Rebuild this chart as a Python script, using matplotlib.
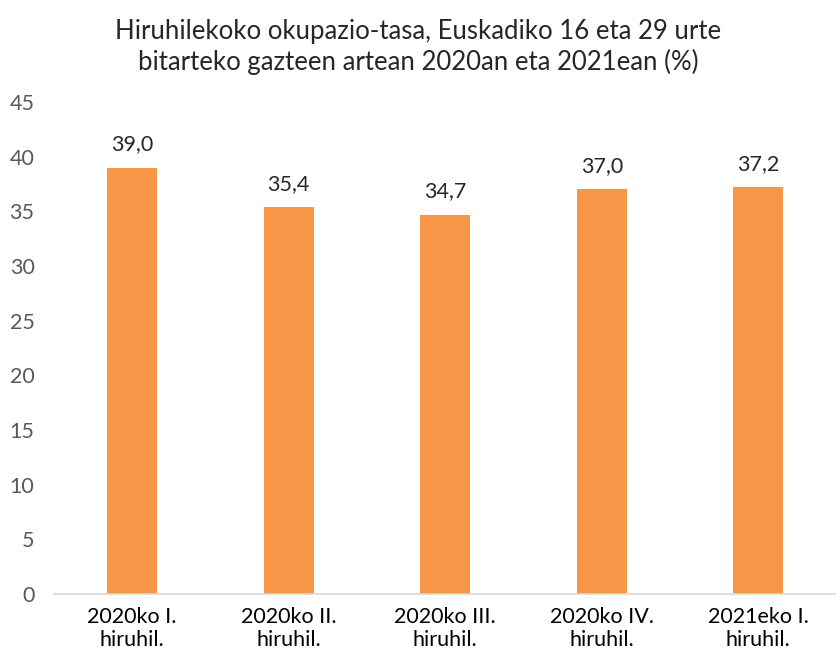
import matplotlib.pyplot as plt

categories = ["2020ko I.\nhiruhil.", "2020ko II.\nhiruhil.", "2020ko III.\nhiruhil.",
              "2020ko IV.\nhiruhil.", "2021eko I.\nhiruhil."]
values = [39.0, 35.4, 34.7, 37.0, 37.2]
yticks = [0, 5, 10, 15, 20, 25, 30, 35, 40, 45]

plt.rcParams['font.family'] = ['Lato', 'DejaVu Sans']

fig = plt.figure(figsize=(8.37, 6.64), dpi=100)
ax = fig.add_axes([0.0645, 0.1054, 0.935, 0.741])

x = range(len(values))
bars = ax.bar(x, values, width=0.32, color="#F79646")

for xi, v in zip(x, values):
    ax.text(xi, v + 1.2, f"{v:.1f}".replace(".", ","), ha="center", va="bottom",
            fontsize=15.5, color="#262626")

ax.set_xlim(-0.5, len(values) - 0.5)
ax.set_ylim(0, 45)
ax.set_yticks(yticks)
ax.set_yticklabels([str(t) for t in yticks], fontsize=15.5, color="#595959")
ax.set_xticks(list(x))
ax.set_xticklabels(categories, fontsize=15.5, color="#000000", linespacing=1.2)
ax.tick_params(axis="both", length=0)
ax.tick_params(axis="x", pad=9)
ax.tick_params(axis="y", pad=14)

for s in ["top", "right", "left"]:
    ax.spines[s].set_visible(False)
ax.spines["bottom"].set_color("#D9D9D9")
ax.spines["bottom"].set_linewidth(1.2)

fig.text(0.5, 0.972, "Hiruhilekoko okupazio-tasa, Euskadiko 16 eta 29 urte\nbitarteko gazteen artean 2020an eta 2021ean (%)",
         ha="center", va="top", fontsize=18.5, color="#262626", linespacing=1.25)

fig.savefig("out.png", dpi=100)
